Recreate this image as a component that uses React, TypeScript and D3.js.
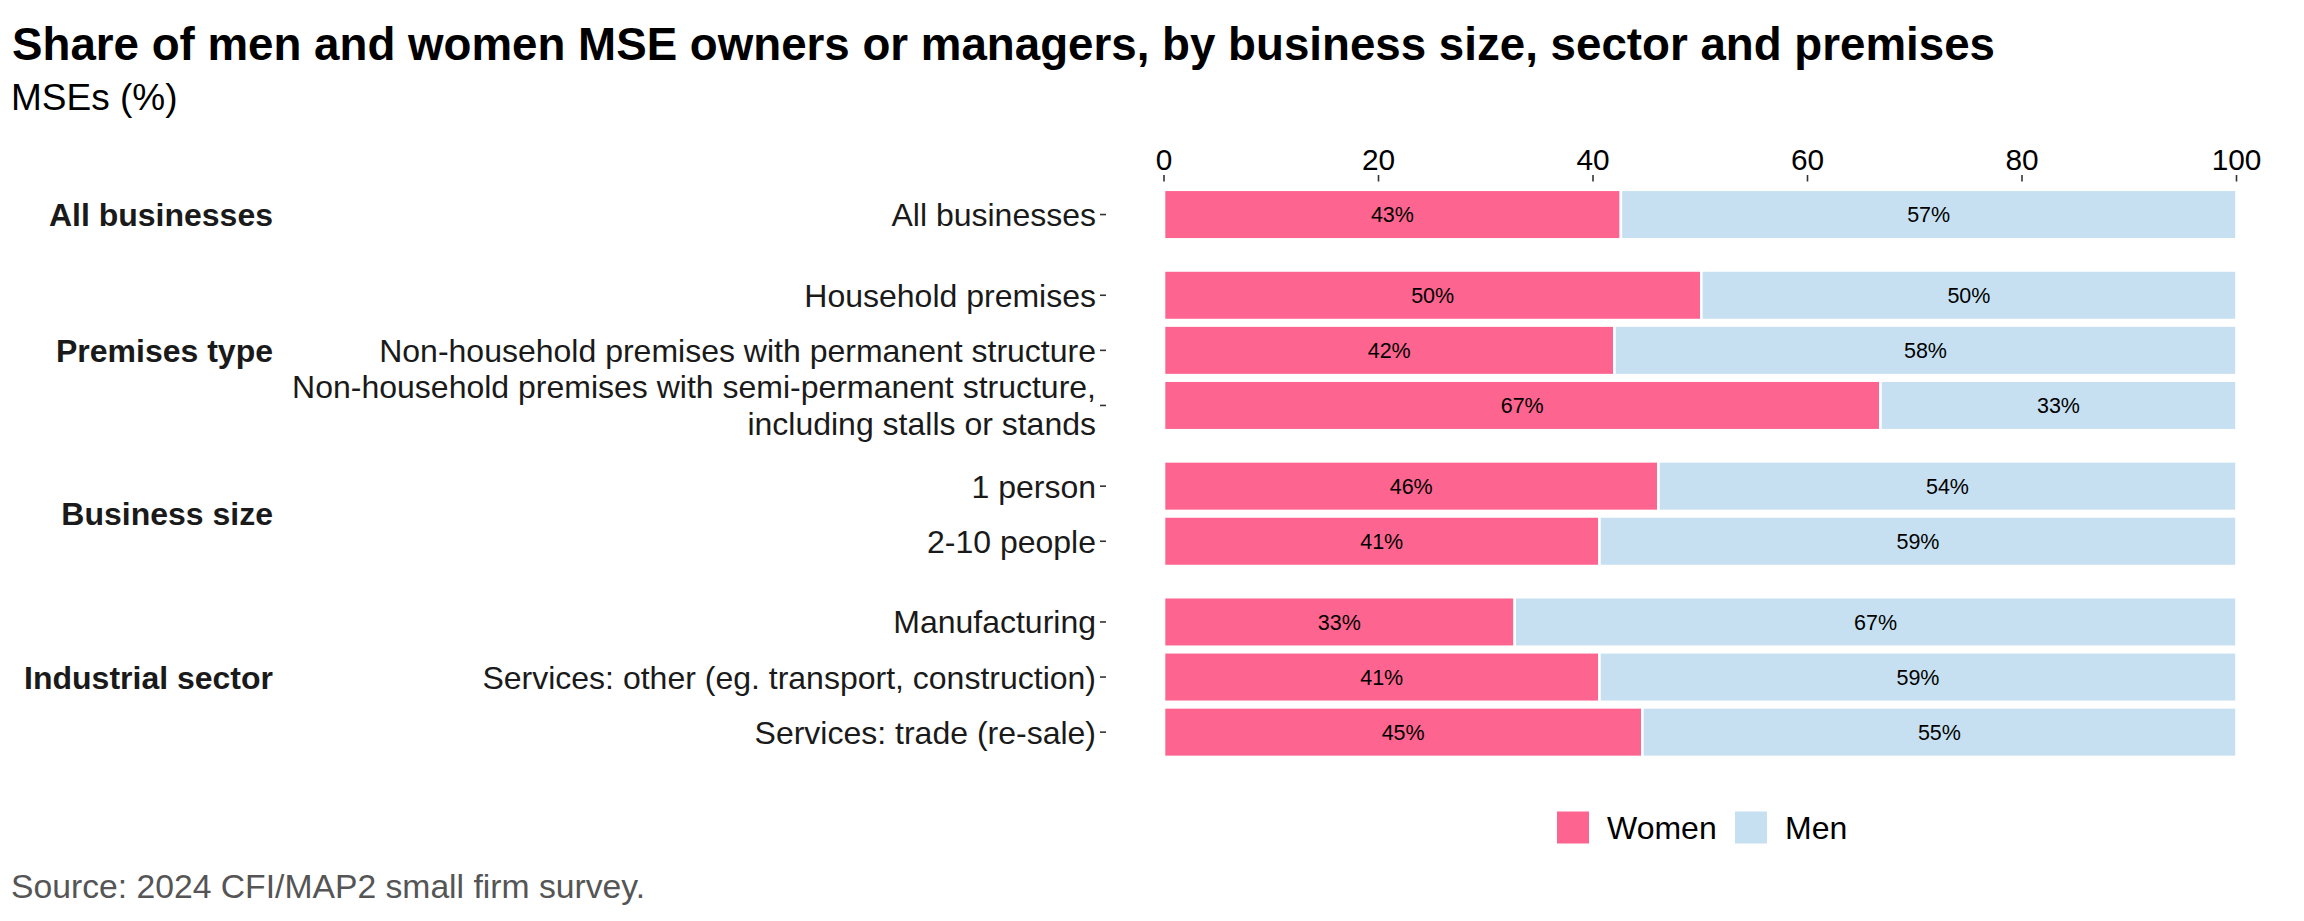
import React from "react";
import * as d3 from "d3";

const groups = ["All businesses", "Premises type", "Business size", "Industrial sector"];
const categories = [
  "All businesses",
  "Household premises",
  "Non-household premises with permanent structure",
  "Non-household premises with semi-permanent structure,\nincluding stalls or stands",
  "1 person",
  "2-10 people",
  "Manufacturing",
  "Services: other (eg. transport, construction)",
  "Services: trade (re-sale)",
];
const categoryGroup = [
  "All businesses",
  "Premises type",
  "Premises type",
  "Premises type",
  "Business size",
  "Business size",
  "Industrial sector",
  "Industrial sector",
  "Industrial sector",
];
const women = [42.6, 50.1, 42.0, 66.8, 46.1, 40.6, 32.7, 40.6, 44.6];
const men = [57.4, 49.9, 58.0, 33.2, 53.9, 59.4, 67.3, 59.4, 55.4];
const xTicks = [0, 20, 40, 60, 80, 100];
const seriesNames = ["Women", "Men"];
const seriesColors = ["#FE6490", "#C6E0F1"];

const W = 2304;
const H = 921;
const FONT = "'Liberation Sans', Arial, Helvetica, sans-serif";

export default function App() {
  const x = d3.scaleLinear().domain([0, 100]).range([1164, 2236.5]);
  const yTop = 181.5;
  const yBottom = 765.2;
  const panelGap = 14.6;
  const sizes = groups.map((g) => categoryGroup.filter((c) => c === g).length);
  const unit = (yBottom - yTop - panelGap * (groups.length - 1)) / d3.sum(sizes.map((n) => n + 0.2));

  const panels: { group: string; top: number; bottom: number; scale: d3.ScaleBand<string> }[] = [];
  let cursor = yTop;
  groups.forEach((g, gi) => {
    const h = unit * (sizes[gi] + 0.2);
    const cats = categories.filter((_, i) => categoryGroup[i] === g);
    const scale = d3.scaleBand<string>().domain(cats).range([cursor, cursor + h]).paddingInner(0.1).paddingOuter(0.15);
    panels.push({ group: g, top: cursor, bottom: cursor + h, scale });
    cursor += h + panelGap;
  });

  const rows = categories.map((c, i) => {
    const p = panels.find((pp) => pp.group === categoryGroup[i])!;
    return { cat: c, y: p.scale(c)!, bw: p.scale.bandwidth(), w: women[i], m: men[i] };
  });

  return (
    <svg width={W} height={H} style={{ position: "absolute", left: 0, top: 0, background: "#fff" }} fontFamily={FONT}>
      <rect x={0} y={0} width={W} height={H} fill="#fff" />
      <text x={12} y={60} fontSize={45.7} fontWeight="bold" fill="#000">
        Share of men and women MSE owners or managers, by business size, sector and premises
      </text>
      <text x={11} y={110} fontSize={37} fill="#000">
        MSEs (%)
      </text>

      {/* top axis */}
      {xTicks.map((t) => (
        <g key={t}>
          <line x1={x(t)} x2={x(t)} y1={175} y2={181.5} stroke="#333" strokeWidth={1.6} />
          <text x={x(t)} y={169.5} fontSize={29.8} textAnchor="middle" fill="#000">
            {t}
          </text>
        </g>
      ))}

      {/* group labels */}
      {panels.map((p) => (
        <text key={p.group} x={273} y={(p.top + p.bottom) / 2} dy="0.36em" fontSize={32} fontWeight="bold" textAnchor="end" fill="#1a1a1a">
          {p.group}
        </text>
      ))}

      {/* bars */}
      {rows.map((r) => {
        const cy = r.y + r.bw / 2;
        const lines = r.cat.split("\n");
        const lh = 37;
        return (
          <g key={r.cat}>
            <rect x={x(0)} y={r.y} width={x(r.w) - x(0)} height={r.bw} fill={seriesColors[0]} stroke="#fff" strokeWidth={2.6} />
            <rect x={x(r.w)} y={r.y} width={x(r.w + r.m) - x(r.w)} height={r.bw} fill={seriesColors[1]} stroke="#fff" strokeWidth={2.6} />
            <text x={(x(0) + x(r.w)) / 2} y={cy} dy="0.36em" fontSize={21.5} textAnchor="middle" fill="#000">
              {Math.round(r.w) + "%"}
            </text>
            <text x={(x(r.w) + x(r.w + r.m)) / 2} y={cy} dy="0.36em" fontSize={21.5} textAnchor="middle" fill="#000">
              {Math.round(r.m) + "%"}
            </text>
            <line x1={1100} x2={1106} y1={cy} y2={cy} stroke="#333" strokeWidth={1.6} />
            {lines.map((ln, li) => (
              <text
                key={li}
                x={1096}
                y={cy + (li - (lines.length - 1) / 2) * lh}
                dy="0.36em"
                fontSize={32}
                textAnchor="end"
                fill="#1a1a1a"
              >
                {ln}
              </text>
            ))}
          </g>
        );
      })}

      {/* legend */}
      {seriesNames.map((s, i) => {
        const lx = [1557, 1735][i];
        return (
          <g key={s}>
            <rect x={lx} y={811.5} width={32} height={32} fill={seriesColors[i]} />
            <text x={lx + 50} y={827.5} dy="0.36em" fontSize={32} fill="#000">
              {s}
            </text>
          </g>
        );
      })}

      <text x={11} y={898} fontSize={33.7} fill="#555">
        Source: 2024 CFI/MAP2 small firm survey.
      </text>
    </svg>
  );
}
